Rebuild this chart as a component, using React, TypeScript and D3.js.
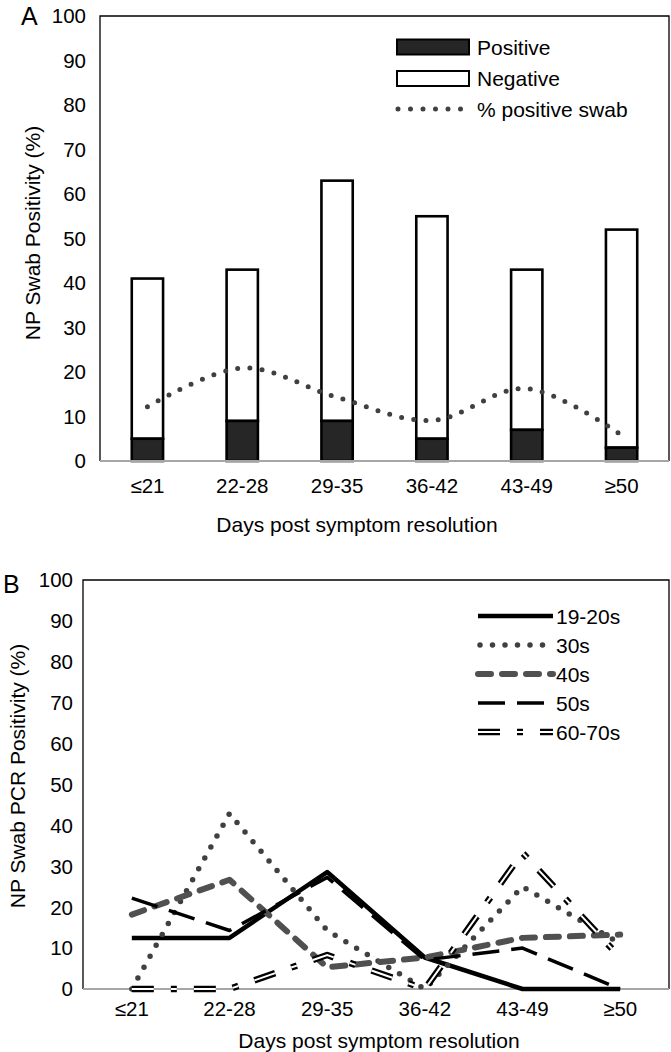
import React from "react";
import * as d3 from "d3";

const categories = ["≤21", "22-28", "29-35", "36-42", "43-49", "≥50"];
const positiveCounts = [5, 9, 9, 5, 7, 3];
const negativeCounts = [36, 34, 54, 50, 36, 49];
const pctPositive = [12.2, 20.9, 14.3, 9.1, 16.3, 5.8];
const yTicks = [0, 10, 20, 30, 40, 50, 60, 70, 80, 90, 100];

const age1920 = [12.5, 12.5, 28.6, 7.7, 0, 0];
const age30 = [0, 42.9, 14.3, 0, 25.0, 11.1];
const age40 = [18.2, 26.7, 5.3, 7.7, 12.5, 13.3];
const age50 = [22.2, 14.3, 27.3, 7.1, 10.0, 0];
const age6070 = [0, 0, 8.3, 0, 33.3, 7.7];

const seriesNames = ["19-20s", "30s", "40s", "50s", "60-70s"];
const legendA = ["Positive", "Negative", "% positive swab"];

const FONT = "'Liberation Sans', Arial, Helvetica, sans-serif";

type Style = {
  stroke: string;
  width: number;
  dash?: string;
  cap?: "round" | "butt";
  double?: boolean;
};

const styles: Style[] = [
  { stroke: "#000", width: 4.5, cap: "butt" },
  { stroke: "#404040", width: 5.5, dash: "0 12.5", cap: "round" },
  { stroke: "#505050", width: 6, dash: "13 11", cap: "round" },
  { stroke: "#000", width: 3.5, dash: "27 12", cap: "butt" },
  { stroke: "#000", width: 6.5, dash: "22 17 6 17", cap: "butt", double: true },
];

function StyledPath({ d, s }: { d: string; s: Style }) {
  return (
    <g>
      <path
        d={d}
        fill="none"
        stroke={s.stroke}
        strokeWidth={s.width}
        strokeDasharray={s.dash}
        strokeLinecap={s.cap}
        strokeLinejoin="round"
      />
      {s.double && (
        <path
          d={d}
          fill="none"
          stroke="#fff"
          strokeWidth={2}
          strokeDasharray={s.dash}
          strokeLinecap="butt"
        />
      )}
    </g>
  );
}

export default function App() {
  // Panel A
  const aLeft = 100, aRight = 669, aTop = 16, aBottom = 461;
  const xA = d3.scaleBand<string>().domain(categories).range([aLeft, aRight]).padding(0);
  const yA = d3.scaleLinear().domain([0, 100]).range([aBottom, aTop]);
  const barW = xA.bandwidth() * 0.33;
  const cA = (c: string) => (xA(c) as number) + xA.bandwidth() / 2;
  const pctLine = d3
    .line<number>()
    .x((_, i) => cA(categories[i]))
    .y((v) => yA(v))
    .curve(d3.curveCardinal.tension(0))(pctPositive) as string;

  // Panel B
  const bLeft = 83, bRight = 669, bTop = 580, bBottom = 989;
  const xB = d3.scaleBand<string>().domain(categories).range([bLeft, bRight]).padding(0);
  const yB = d3.scaleLinear().domain([0, 100]).range([bBottom, bTop]);
  const cB = (c: string) => (xB(c) as number) + xB.bandwidth() / 2;
  const lineB = d3
    .line<number>()
    .x((_, i) => cB(categories[i]))
    .y((v) => yB(v));
  const seriesB = [age1920, age30, age40, age50, age6070];

  const tickFs = 20.5;
  const titleFs = 21;

  return (
    <svg
      width={671}
      height={1052}
      style={{ position: "absolute", left: 0, top: 0, background: "#fff" }}
      fontFamily={FONT}
    >
      <rect x={0} y={0} width={671} height={1052} fill="#fff" />

      {/* ---------- Panel A ---------- */}
      <text x={21} y={25} fontSize={25} fill="#000">A</text>
      {yTicks.map((t) => (
        <text key={"ya" + t} x={86} y={yA(t) + 7.3} fontSize={tickFs} textAnchor="end" fill="#000">
          {t}
        </text>
      ))}
      {/* bars */}
      {categories.map((c, i) => {
        const x0 = cA(c) - barW / 2;
        const total = positiveCounts[i] + negativeCounts[i];
        return (
          <g key={"bar" + c}>
            <rect
              x={x0}
              y={yA(total)}
              width={barW}
              height={yA(positiveCounts[i]) - yA(total)}
              fill="#fff"
              stroke="#000"
              strokeWidth={2.6}
            />
            <rect
              x={x0}
              y={yA(positiveCounts[i])}
              width={barW}
              height={yA(0) - yA(positiveCounts[i])}
              fill="#262626"
              stroke="#000"
              strokeWidth={2.6}
            />
          </g>
        );
      })}
      <path d={pctLine} fill="none" stroke="#404040" strokeWidth={5} strokeDasharray="0 12.3" strokeLinecap="round" />
      {/* frame */}
      <path d={`M${aLeft},${aBottom}V${aTop}H${aRight}V${aBottom}`} fill="none" stroke="#000" strokeWidth={1.3} />
      <line x1={aLeft} x2={aRight} y1={aBottom} y2={aBottom} stroke="#a6a6a6" strokeWidth={2.2} />
      {categories.map((c) => (
        <text key={"xa" + c} x={cA(c)} y={492.5} fontSize={tickFs} textAnchor="middle" fill="#000">
          {c}
        </text>
      ))}
      <text x={357} y={532} fontSize={titleFs} textAnchor="middle" fill="#000">
        Days post symptom resolution
      </text>
      <text transform="translate(39.5,233) rotate(-90)" fontSize={titleFs} textAnchor="middle" fill="#000">
        NP Swab Positivity (%)
      </text>
      {/* legend A */}
      <rect x={397} y={39.5} width={72} height={15} fill="#262626" stroke="#000" strokeWidth={2} />
      <rect x={397} y={71} width={72} height={15} fill="#fff" stroke="#000" strokeWidth={2} />
      <line x1={398} x2={462} y1={109} y2={109} stroke="#404040" strokeWidth={5} strokeDasharray="0 12.5" strokeLinecap="round" />
      {legendA.map((t, i) => (
        <text key={"la" + t} x={477} y={[47, 78.5, 109][i] + 7.5} fontSize={titleFs} fill="#000">
          {t}
        </text>
      ))}

      {/* ---------- Panel B ---------- */}
      <text x={3} y={593} fontSize={25} fill="#000">B</text>
      {yTicks.map((t) => (
        <text key={"yb" + t} x={73} y={yB(t) + 7.3} fontSize={tickFs} textAnchor="end" fill="#000">
          {t}
        </text>
      ))}
      <path d={`M${bLeft},${bBottom}V${bTop}H${bRight}V${bBottom}`} fill="none" stroke="#000" strokeWidth={1.3} />
      <line x1={bLeft} x2={bRight} y1={bBottom} y2={bBottom} stroke="#a6a6a6" strokeWidth={2.2} />
      {seriesB.map((vals, k) => (
        <StyledPath key={"s" + k} d={lineB(vals) as string} s={styles[k]} />
      ))}
      {categories.map((c) => (
        <text key={"xb" + c} x={cB(c)} y={1015.5} fontSize={tickFs} textAnchor="middle" fill="#000">
          {c}
        </text>
      ))}
      <text x={379} y={1048} fontSize={titleFs} textAnchor="middle" fill="#000">
        Days post symptom resolution
      </text>
      <text transform="translate(24.5,776) rotate(-90)" fontSize={titleFs} textAnchor="middle" fill="#000">
        NP Swab PCR Positivity (%)
      </text>
      {/* legend B */}
      {seriesNames.map((n, i) => {
        const y = 616 + i * 29;
        const x2 = i === 1 || i === 3 ? 544 : 553;
        return (
          <g key={"lb" + n}>
            <StyledPath d={`M${i === 1 ? 480 : 478},${y}H${x2}`} s={styles[i]} />
            <text x={556} y={y + 7.5} fontSize={titleFs} fill="#000">
              {n}
            </text>
          </g>
        );
      })}
    </svg>
  );
}
